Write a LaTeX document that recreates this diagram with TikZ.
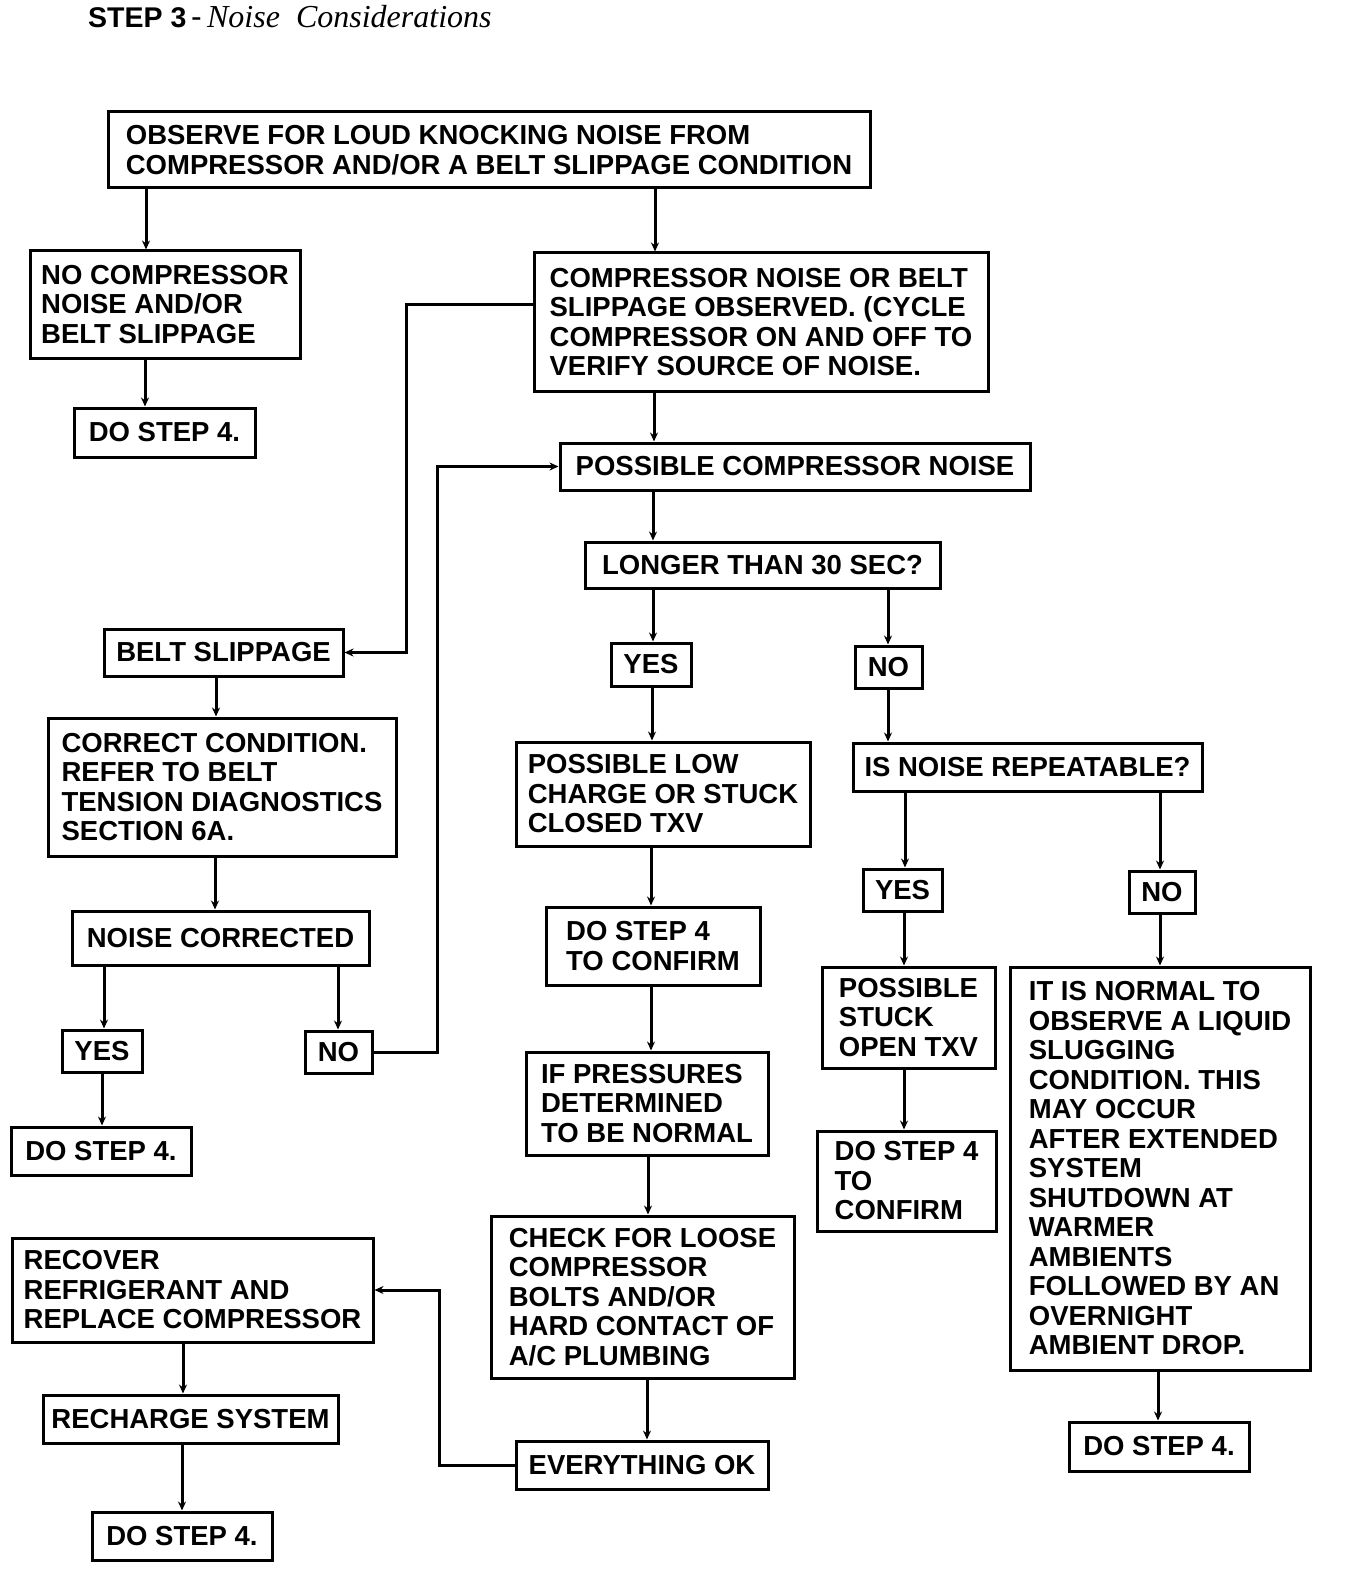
\documentclass[tikz,border=0pt]{standalone}
\usepackage{fontspec}
\setmainfont{Liberation Sans}
\newfontfamily\titleserif{Liberation Serif}
\usetikzlibrary{arrows.meta}
\tikzstyle{box} = [rectangle, draw = black, line width=3pt, align=left, font=\fontsize{27.5}{29.5}\selectfont\bfseries]
\tikzstyle{arrow} = [line width=3pt, -{Stealth[length=9pt,width=8pt]}]

\begin{document}
\begin{tikzpicture}[x=1pt, y=-1pt]
	\useasboundingbox (0,0) rectangle (1344,1586);
	\node (title) [anchor=base west, inner sep=0pt] at (88,28) {\fontsize{28.5}{30}\selectfont\bfseries STEP 3\,\fontsize{32}{30}\selectfont\mdseries -\,\titleserif\itshape Noise\ \ Considerations};
	% top and main column
	\node (obs) [box, minimum width=762, minimum height=76] at (489,150) {OBSERVE FOR LOUD KNOCKING NOISE FROM\\COMPRESSOR AND/OR A BELT SLIPPAGE CONDITION};
	\node (nonoise) [box, minimum width=270, minimum height=107] at (165,304.5) {NO COMPRESSOR\\NOISE AND/OR\\BELT SLIPPAGE};
	\node (stepa) [box, minimum width=181, minimum height=49] at (164.5,432.5) {DO STEP 4.};
	\node (heard) [box, minimum width=454, minimum height=138] at (761,322) {COMPRESSOR NOISE OR BELT\\SLIPPAGE OBSERVED. (CYCLE\\COMPRESSOR ON AND OFF TO\\VERIFY SOURCE OF NOISE.};
	\node (possible) [box, minimum width=470, minimum height=47] at (795,466.5) {POSSIBLE COMPRESSOR NOISE};
	\node (longer) [box, minimum width=355, minimum height=46] at (762.5,565) {LONGER THAN 30 SEC?};
	\node (yesA) [box, minimum width=80, minimum height=43] at (651,664.5) {YES};
	\node (noA) [box, minimum width=67, minimum height=42] at (888.5,667) {NO};
	\node (lowcharge) [box, minimum width=294, minimum height=104] at (663,794) {POSSIBLE LOW\\CHARGE OR STUCK\\CLOSED TXV};
	\node (repeat) [box, minimum width=349, minimum height=48] at (1027.5,767) {IS NOISE REPEATABLE?};
	\node (confirmA) [box, minimum width=214, minimum height=78] at (653,946) {DO STEP 4\\TO CONFIRM};
	\node (yesB) [box, minimum width=79, minimum height=42] at (902.5,890) {YES};
	\node (noB) [box, minimum width=66, minimum height=42] at (1162,892) {NO};
	\node (stuck) [box, minimum width=173, minimum height=101] at (908.5,1017.5) {POSSIBLE\\STUCK\\OPEN TXV};
	\node (normal) [box, minimum width=300, minimum height=403] at (1160,1168.5) {IT IS NORMAL TO\\OBSERVE A LIQUID\\SLUGGING\\CONDITION. THIS\\MAY OCCUR\\AFTER EXTENDED\\SYSTEM\\SHUTDOWN AT\\WARMER\\AMBIENTS\\FOLLOWED BY AN\\OVERNIGHT\\AMBIENT DROP.};
	\node (stepr) [box, minimum width=180, minimum height=49] at (1159,1446.5) {DO STEP 4.};
	\node (confirmB) [box, minimum width=179, minimum height=100] at (906.5,1181) {DO STEP 4\\TO\\CONFIRM};
	\node (press) [box, minimum width=242, minimum height=103] at (647,1103.5) {IF PRESSURES\\DETERMINED\\TO BE NORMAL};
	\node (loose) [box, minimum width=303, minimum height=162] at (642.5,1297) {CHECK FOR LOOSE\\COMPRESSOR\\BOLTS AND/OR\\HARD CONTACT OF\\A/C PLUMBING};
	\node (allok) [box, minimum width=252, minimum height=48] at (642,1465) {EVERYTHING OK};
	% left column
	\node (recover) [box, minimum width=361, minimum height=104] at (192.5,1290) {RECOVER\\REFRIGERANT AND\\REPLACE COMPRESSOR};
	\node (recharge) [box, minimum width=295, minimum height=48] at (190.5,1419) {RECHARGE SYSTEM};
	\node (stepb) [box, minimum width=180, minimum height=48] at (182,1536) {DO STEP 4.};
	\node (belt) [box, minimum width=239, minimum height=47] at (223.5,652.5) {BELT SLIPPAGE};
	\node (correct) [box, minimum width=348, minimum height=138] at (222,787) {CORRECT CONDITION.\\REFER TO BELT\\TENSION DIAGNOSTICS\\SECTION 6A.};
	\node (fixed) [box, minimum width=297, minimum height=54] at (220.5,938) {NOISE CORRECTED};
	\node (yesC) [box, minimum width=80, minimum height=42] at (102,1051) {YES};
	\node (noC) [box, minimum width=67, minimum height=42] at (338.5,1052) {NO};
	\node (stepl) [box, minimum width=180, minimum height=48] at (101,1151) {DO STEP 4.};
	% connectors
	\draw [arrow] (obs.south -| 146,0) -- (nonoise.north -| 146,0);
	\draw [arrow] (obs.south -| 655,0) -- (heard.north -| 655,0);
	\draw [arrow] (nonoise.south -| 145,0) -- (stepa.north -| 145,0);
	\draw [arrow] (heard.south -| 654,0) -- (possible.north -| 654,0);
	\draw [arrow] (heard.west |- 0,305) -- (406,305) |- (belt.east);
	\draw [arrow] (possible.south -| 653,0) -- (longer.north -| 653,0);
	\draw [arrow] (longer.south -| 653,0) -- (yesA.north -| 653,0);
	\draw [arrow] (longer.south -| 888,0) -- (noA.north -| 888,0);
	\draw [arrow] (yesA.south -| 652,0) -- (lowcharge.north -| 652,0);
	\draw [arrow] (noA.south -| 888,0) -- (repeat.north -| 888,0);
	\draw [arrow] (lowcharge.south -| 651,0) -- (confirmA.north -| 651,0);
	\draw [arrow] (repeat.south -| 905,0) -- (yesB.north -| 905,0);
	\draw [arrow] (repeat.south -| 1160,0) -- (noB.north -| 1160,0);
	\draw [arrow] (yesB.south -| 904,0) -- (stuck.north -| 904,0);
	\draw [arrow] (noB.south -| 1160,0) -- (normal.north -| 1160,0);
	\draw [arrow] (stuck.south -| 904,0) -- (confirmB.north -| 904,0);
	\draw [arrow] (normal.south -| 1158,0) -- (stepr.north -| 1158,0);
	\draw [arrow] (confirmA.south -| 651,0) -- (press.north -| 651,0);
	\draw [arrow] (press.south -| 648,0) -- (loose.north -| 648,0);
	\draw [arrow] (loose.south -| 647,0) -- (allok.north -| 647,0);
	\draw [arrow] (allok.west) -- (439,1465) |- (recover.east);
	\draw [arrow] (recover.south -| 183,0) -- (recharge.north -| 183,0);
	\draw [arrow] (recharge.south -| 182,0) -- (stepb.north -| 182,0);
	\draw [arrow] (belt.south -| 216,0) -- (correct.north -| 216,0);
	\draw [arrow] (correct.south -| 215,0) -- (fixed.north -| 215,0);
	\draw [arrow] (fixed.south -| 104,0) -- (yesC.north -| 104,0);
	\draw [arrow] (fixed.south -| 338,0) -- (noC.north -| 338,0);
	\draw [arrow] (yesC.south -| 102,0) -- (stepl.north -| 102,0);
	\draw [arrow] (noC.east) -- (437,1052) |- (possible.west);
\end{tikzpicture}
\end{document}
